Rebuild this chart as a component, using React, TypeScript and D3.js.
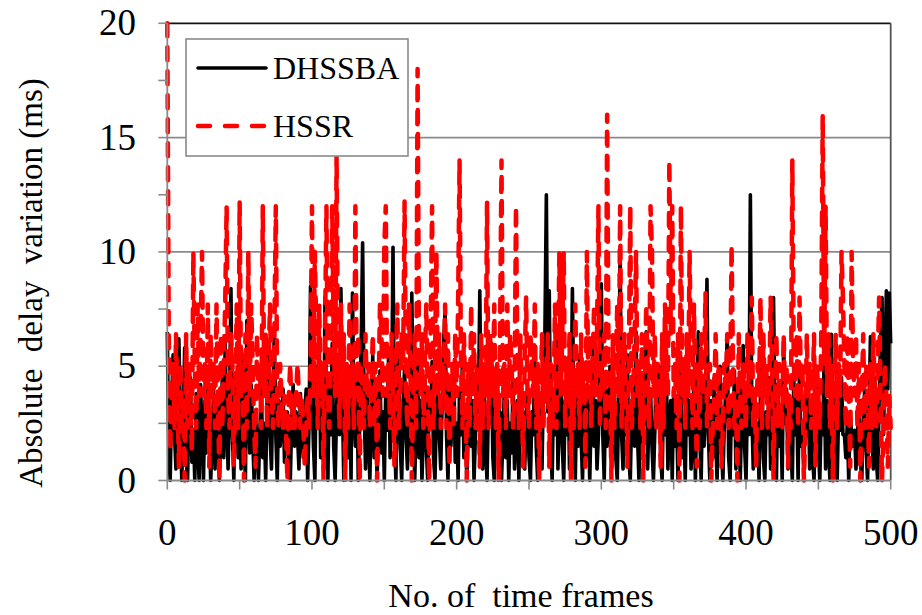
import React from "react";
import * as d3 from "d3";

const seriesNames = ["DHSSBA", "HSSR"];
const xTicks = [0, 100, 200, 300, 400, 500];
const xMinorTicks = [0, 50, 100, 150, 200, 250, 300, 350, 400, 450, 500];
const yTicks = [0, 5, 10, 15, 20];
const yMinorTicks = [0, 2.5, 5, 7.5, 10, 12.5, 15, 17.5, 20];

const dhssba = [
  6.5, 1.2, 0, 3.5, 5.5, 2.0, 0.5, 4.8, 6.2, 3.0, 0, 2.5, 5.8, 1.0, 0, 3.2, 4.5, 0.8, 2.2, 0, 3.8, 1.5, 0, 4.2, 2.0,
  0, 3.5, 1.2, 5.0, 2.4, 0, 1.8, 4.0, 0.5, 2.6, 3.8, 0, 2.0, 4.5, 1.0, 6.0, 2.8, 0.5, 3.2, 8.4, 2.0, 0, 4.5, 2.5, 1.0,
  3.5, 0.5, 5.2, 2.0, 0, 7.0, 3.0, 1.2, 4.2, 2.0, 0, 3.0, 1.5, 0, 2.2, 4.0, 1.0, 2.5, 0, 3.6, 5.5, 2.0, 0.5, 4.0, 6.5,
  2.0, 0, 3.5, 1.5, 2.5, 4.0, 0.8, 2.2, 3.0, 1.0, 0, 2.6, 4.2, 1.5, 3.0, 2.0, 0.5, 3.8, 2.2, 1.0, 3.0, 4.0, 0, 2.5, 8.5,
  4.0, 1.5, 0, 5.0, 2.5, 6.2, 1.0, 3.5, 0.5, 8.0, 3.0, 0, 4.5, 2.0, 6.0, 1.5, 0, 3.0, 5.5, 2.0, 8.4, 3.5, 0, 4.0, 2.5,
  1.0, 5.0, 0, 8.2, 3.0, 1.5, 4.5, 0, 2.5, 6.0, 10.4, 3.5, 0.5, 4.0, 2.0, 0, 3.2, 5.5, 1.0, 3.8, 0, 2.5, 4.8, 1.2, 3.0,
  0, 4.0, 2.2, 5.8, 1.0, 3.5, 10.2, 2.0, 0, 4.2, 6.0, 1.5, 0, 3.0, 5.0, 2.0, 0.5, 4.0, 1.2, 8.2, 3.0, 0, 2.5, 5.0, 1.0,
  3.5, 0, 2.0, 4.5, 1.5, 0, 3.8, 2.5, 5.2, 1.0, 0, 3.0, 4.2, 2.0, 0.5, 3.5, 6.0, 7.5, 2.0, 0, 4.0, 1.5, 3.0, 5.0, 0.8,
  2.5, 0, 4.0, 2.0, 5.5, 1.0, 3.0, 0, 2.2, 4.8, 1.5, 3.5, 0, 2.0, 5.0, 3.0, 8.3, 2.0, 0.5, 4.0, 1.5, 0, 3.5, 2.5, 6.0,
  1.0, 0, 3.2, 4.5, 1.5, 3.0, 0, 2.0, 4.0, 1.0, 3.5, 0, 2.5, 1.2, 4.4, 0.5, 2.0, 3.5, 0, 4.2, 1.8, 3.0, 0.5, 2.5, 4.0,
  1.0, 0, 3.0, 2.0, 5.5, 1.5, 0, 3.8, 2.2, 0.5, 4.5, 6.5, 12.5, 3.0, 8.3, 1.5, 0, 4.0, 2.0, 6.5, 0.5, 3.0, 5.0, 1.5, 0,
  3.5, 2.0, 4.8, 0.5, 2.5, 8.4, 3.0, 0, 4.0, 1.5, 5.5, 2.0, 0, 3.5, 1.0, 4.2, 2.5, 0, 3.0, 6.0, 1.5, 3.5, 0.5, 2.0, 4.5,
  8.6, 2.0, 0, 4.0, 1.5, 3.0, 5.0, 0.5, 2.5, 4.2, 1.0, 0, 3.5, 10.2, 2.0, 0.5, 4.5, 2.0, 5.5, 1.0, 0, 3.0, 4.0, 1.5, 6.5,
  2.0, 0, 3.5, 1.0, 4.5, 2.5, 6.5, 0.5, 3.0, 4.0, 1.5, 0, 2.2, 5.0, 3.0, 5.0, 1.0, 0, 3.8, 2.0, 4.5, 0.5, 2.5, 3.5, 0,
  4.0, 1.5, 2.8, 0, 3.5, 5.0, 1.0, 2.5, 0, 4.2, 2.0, 3.5, 0.5, 1.8, 4.5, 0, 3.0, 6.5, 2.0, 0, 4.0, 1.5, 3.0, 8.8, 2.0,
  0, 3.5, 1.0, 4.5, 2.0, 0, 3.0, 5.0, 1.5, 0, 2.5, 4.0, 6.4, 1.0, 0, 3.5, 2.0, 4.8, 0.5, 2.5, 4.0, 0, 3.0, 5.9, 1.5,
  0, 3.5, 2.0, 12.5, 3.0, 0.5, 4.0, 1.5, 2.5, 0, 3.8, 5.0, 1.0, 0, 3.0, 2.0, 4.5, 0.5, 2.5, 8.0, 3.0, 0, 4.2, 1.5, 3.0,
  0, 6.1, 2.5, 4.0, 0.5, 3.0, 1.5, 0, 4.5, 2.0, 3.5, 0, 5.0, 1.5, 2.5, 0, 3.8, 2.0, 4.0, 0.5, 3.0, 1.0, 0, 2.5, 4.2,
  1.5, 0, 3.0, 2.0, 5.5, 0.5, 3.5, 1.5, 0, 6.4, 2.5, 4.0, 1.0, 0, 3.0, 2.2, 4.5, 2.0, 2.0, 1.0, 2.5, 0, 3.0, 2.0, 1.5,
  2.2, 0.5, 2.0, 3.5, 1.0, 0, 2.5, 4.0, 1.5, 0, 3.0, 6.3, 2.0, 0.5, 4.5, 1.0, 0, 3.5, 6.0, 8.0, 2.0, 5.0, 8.3, 4.0, 8.2,
  6.0,
];

const hssr = [
  20, 6.4, 1.3, 3.7, 5.1, 2.3, 6.4, 3.7, 0.6, 5.1, 2.3, 3.7, 0, 6.4, 2.3, 5.1, 3.7, 1.3, 10, 5.1, 2.3, 7.7, 3.7, 6.4, 10,
  3.7, 5.1, 2.3, 7.7, 0.6, 6.4, 3.7, 5.1, 2.3, 7.7, 3.7, 0, 6.4, 2.3, 5.1, 7.7, 12, 3.7, 2.3, 6.4, 5.1, 0.6, 3.7, 7.7, 2.3,
  12.2, 3.7, 5.1, 0, 6.4, 2.3, 10, 3.7, 7.7, 5.1, 2.3, 0.6, 6.4, 3.7, 5.1, 2.3, 12, 3.7, 6.4, 2.3, 5.1, 7.7, 3.7, 2.3, 6.4,
  12, 3.7, 2.3, 5.1, 3.7, 2.3, 3.7, 2.3, 0, 3.7, 5.1, 2.3, 3.7, 2.3, 3.7, 5.1, 3.7, 2.3, 3.7, 2.3, 0.6, 2.3, 3.7, 2.3, 5.1,
  12, 3.7, 10, 6.4, 2.3, 7.7, 3.7, 5.1, 0, 6.4, 12, 3.7, 2.3, 5.1, 12, 6.4, 3.7, 14.3, 5.1, 2.3, 7.7, 3.7, 6.4, 0, 5.1,
  2.3, 7.7, 3.7, 5.1, 2.3, 12, 3.7, 6.4, 0, 5.1, 3.7, 2.3, 6.4, 3.7, 5.1, 2.3, 3.7, 6.4, 2.3, 5.1, 0, 3.7, 7.7, 6.4, 3.7,
  10.3, 12, 3.7, 5.1, 2.3, 6.4, 3.7, 0.6, 5.1, 7.7, 2.3, 3.7, 6.4, 5.1, 12.2, 3.7, 2.3, 7.7, 5.1, 0, 3.7, 6.4, 2.3, 18, 5.1,
  3.7, 6.4, 2.3, 5.1, 7.7, 3.7, 0, 6.4, 12, 2.3, 5.1, 10, 3.7, 6.4, 2.3, 5.1, 3.7, 7.7, 2.3, 6.4, 0.6, 3.7, 5.1, 2.3, 6.4,
  3.7, 7.7, 14, 5.1, 2.3, 6.4, 3.7, 0, 5.1, 2.3, 7.7, 3.7, 6.4, 2.3, 5.1, 3.7, 0.6, 6.4, 2.3, 5.1, 3.7, 12.2, 2.3, 6.4, 5.1,
  3.7, 7.7, 2.3, 5.1, 0, 6.4, 14, 3.7, 5.1, 2.3, 7.7, 3.7, 6.4, 5.1, 2.3, 3.7, 12, 5.1, 2.3, 6.4, 3.7, 0.6, 5.1, 8, 3.7,
  2.3, 6.4, 5.1, 3.7, 7.7, 2.3, 5.1, 0, 3.7, 6.4, 2.3, 5.1, 3.7, 6.4, 0.6, 5.1, 2.3, 3.7, 7.7, 2.3, 5.1, 10, 3.7, 6.4, 10,
  2.3, 5.1, 3.7, 6.4, 0, 5.1, 2.3, 7.7, 3.7, 5.1, 2.3, 6.4, 3.7, 5.1, 0.6, 10, 3.7, 6.4, 2.3, 5.1, 7.7, 3.7, 6.4, 12, 2.3,
  5.1, 3.7, 6.4, 2.3, 16, 5.1, 3.7, 0, 6.4, 2.3, 5.1, 7.7, 3.7, 12, 2.3, 5.1, 6.4, 3.7, 0.6, 5.1, 12, 2.3, 3.7, 6.4, 10,
  3.7, 5.1, 2.3, 6.4, 0, 3.7, 7.7, 5.1, 2.3, 12, 10, 3.7, 6.4, 2.3, 5.1, 3.7, 0.6, 6.4, 2.3, 7.7, 5.1, 3.7, 14, 6.4, 12,
  3.7, 5.1, 2.3, 6.4, 0, 12, 3.7, 5.1, 2.3, 6.4, 3.7, 10, 5.1, 2.3, 7.7, 3.7, 0.6, 5.1, 2.3, 6.4, 3.7, 5.1, 8.2, 2.3, 3.7,
  5.1, 0, 2.3, 3.7, 6.4, 2.3, 5.1, 3.7, 0.6, 2.3, 5.1, 3.7, 6.4, 2.3, 3.7, 10.3, 5.1, 2.3, 3.7, 0, 6.4, 3.7, 2.3, 5.1, 3.7,
  2.3, 6.4, 3.7, 5.1, 8, 2.3, 3.7, 0.6, 5.1, 3.7, 8, 2.3, 6.4, 3.7, 5.1, 2.3, 3.7, 8, 5.1, 0, 3.7, 6.4, 2.3, 5.1, 3.7,
  2.3, 6.4, 3.7, 5.1, 0.6, 3.7, 2.3, 14, 5.1, 3.7, 6.4, 2.3, 8, 3.7, 5.1, 0, 2.3, 6.4, 3.7, 5.1, 2.3, 3.7, 6.4, 0.6, 5.1,
  3.7, 2.3, 6.4, 16, 5.1, 12, 3.7, 6.4, 2.3, 5.1, 0, 3.7, 6.4, 2.3, 5.1, 3.7, 10, 8, 5.1, 2.3, 6.4, 3.7, 0.6, 10, 5.1,
  3.7, 6.4, 2.3, 5.1, 0, 3.7, 6.4, 2.3, 5.1, 3.7, 0.6, 5.1, 2.3, 6.4, 3.7, 2.3, 5.1, 8, 3.7, 0, 2.3, 5.1, 3.7, 0.6, 3.7,
  2.3,
];

const FONT = "Liberation Serif";

export default function App() {
  const W = 922;
  const H = 615;
  const x = d3.scaleLinear().domain([0, 500]).range([167.3, 890.7]);
  const y = d3.scaleLinear().domain([0, 20]).range([480.5, 23.3]);
  const line = d3
    .line<number>()
    .x((_, i) => x(i))
    .y((d) => y(d));
  const grid = "#8a8a8a";
  const tf = { fontFamily: FONT };

  return (
    <svg width={W} height={H} style={{ position: "absolute", left: 0, top: 0, background: "#fff" }}>
      <rect x={0} y={0} width={W} height={H} fill="#fff" />
      {/* gridlines */}
      {yTicks
        .filter((t) => t > 0 && t < 20)
        .map((t) => (
          <line key={"g" + t} x1={x(0)} x2={x(500)} y1={y(t)} y2={y(t)} stroke={grid} strokeWidth={1.6} />
        ))}
      {/* frame top & right */}
      <line x1={x(0)} x2={x(500)} y1={y(20)} y2={y(20)} stroke="#111" strokeWidth={1.8} />
      <line x1={x(500)} x2={x(500)} y1={y(20)} y2={y(0)} stroke="#555" strokeWidth={1.8} />
      {/* data */}
      <path d={line(dhssba) || ""} fill="none" stroke="#000" strokeWidth={3.6} strokeLinejoin="round" />
      <path
        d={line(hssr) || ""}
        fill="none"
        stroke="#ff0000"
        strokeWidth={4.5}
        strokeDasharray="13,11"
        strokeLinecap="round"
        strokeLinejoin="round"
      />
      {/* axes */}
      <line x1={x(0)} x2={x(0)} y1={y(0)} y2={y(20)} stroke={grid} strokeWidth={1.8} />
      <line x1={x(0)} x2={x(500)} y1={y(0)} y2={y(0)} stroke={grid} strokeWidth={1.8} />
      {yMinorTicks.map((t) => (
        <line key={"yt" + t} x1={x(0) - 9} x2={x(0)} y1={y(t)} y2={y(t)} stroke={grid} strokeWidth={1.6} />
      ))}
      {xMinorTicks.map((t) => (
        <line key={"xt" + t} x1={x(t)} x2={x(t)} y1={y(0)} y2={y(0) + 9} stroke={grid} strokeWidth={1.6} />
      ))}
      {yTicks.map((t) => (
        <text key={"yl" + t} x={136} y={y(t) + 12} textAnchor="end" fontSize={37} fill="#000" style={tf}>
          {t}
        </text>
      ))}
      {xTicks.map((t) => (
        <text key={"xl" + t} x={x(t)} y={545} textAnchor="middle" fontSize={37} fill="#000" style={tf}>
          {t}
        </text>
      ))}
      <text x={521} y={607} textAnchor="middle" fontSize={34} fill="#000" style={{ ...tf, whiteSpace: "pre" }}>
        {"No. of  time frames"}
      </text>
      <text
        transform="translate(42,283) rotate(-90)"
        textAnchor="middle"
        fontSize={33}
        fill="#000"
        style={{ ...tf, whiteSpace: "pre" }}
      >
        {"Absolute  delay  variation (ms)"}
      </text>
      {/* legend */}
      <rect x={186} y={39} width={222} height={117} fill="#fff" stroke={grid} strokeWidth={1.6} />
      <line x1={198} x2={266} y1={68} y2={68} stroke="#000" strokeWidth={3.6} strokeLinecap="round" />
      <text x={273} y={79} fontSize={32} fill="#000" style={tf}>
        {seriesNames[0]}
      </text>
      <line
        x1={198}
        x2={266}
        y1={126}
        y2={126}
        stroke="#ff0000"
        strokeWidth={4.5}
        strokeDasharray="12,15"
        strokeLinecap="round"
      />
      <text x={273} y={137} fontSize={32} fill="#000" style={tf}>
        {seriesNames[1]}
      </text>
    </svg>
  );
}
